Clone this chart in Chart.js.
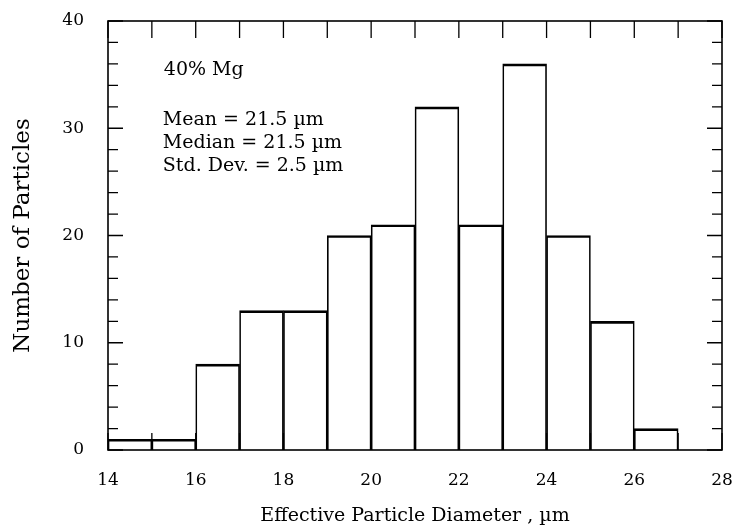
<!DOCTYPE html>
<html>
<head>
<meta charset="utf-8">
<script src="https://cdn.jsdelivr.net/npm/chart.js@4"></script>
<style>
html,body{margin:0;padding:0;background:#fff;}
#wrap{width:736px;height:532px;}
</style>
</head>
<body>
<div id="wrap"><canvas id="c" width="736" height="532"></canvas></div>
<script>
// Histogram data: bin starts (µm) and counts
const binStarts = [14, 15, 16, 17, 18, 19, 20, 21, 22, 23, 24, 25, 26];
const counts    = [1, 1, 8, 13, 13, 20, 21, 32, 21, 36, 20, 12, 2];
const xTickLabels = [14, 16, 18, 20, 22, 24, 26, 28];
const yTickLabels = [0, 10, 20, 30, 40];
const annotation = ['40% Mg', 'Mean = 21.5 \u00b5m', 'Median = 21.5 \u00b5m', 'Std. Dev. = 2.5 \u00b5m'];

const FONT = '"DejaVu Serif", "Liberation Serif", serif';

const data = binStarts.map((s, i) => ({x: s + 0.5, y: counts[i]}));

const frameTicks = {
  id: 'frameTicks',
  afterDatasetsDraw(chart) {
    const {ctx, chartArea: a, scales: {x, y}} = chart;
    ctx.save();
    ctx.strokeStyle = '#000';
    ctx.lineWidth = 1.6;
    ctx.strokeRect(a.left, a.top, a.right - a.left, a.bottom - a.top);
    ctx.lineWidth = 1.3;
    ctx.beginPath();
    for (let v = 14; v <= 28; v += 1) {
      const px = x.getPixelForValue(v);
      const len = 17;
      ctx.moveTo(px, a.bottom); ctx.lineTo(px, a.bottom - len);
      ctx.moveTo(px, a.top); ctx.lineTo(px, a.top + len);
    }
    for (let v = 0; v <= 40; v += 2) {
      const py = y.getPixelForValue(v);
      const len = (v % 10 === 0) ? 15 : 10;
      ctx.moveTo(a.left, py); ctx.lineTo(a.left + len, py);
      ctx.moveTo(a.right, py); ctx.lineTo(a.right - len, py);
    }
    ctx.stroke();
    // annotation text
    ctx.fillStyle = '#000';
    ctx.font = '19px ' + FONT;
    ctx.textBaseline = 'middle';
    ctx.textAlign = 'left';
    const tx = x.getPixelForValue(15.25);
    ctx.fillText(annotation[0], tx + 1, y.getPixelForValue(35.4));
    ctx.fillText(annotation[1], tx, y.getPixelForValue(30.75));
    ctx.fillText(annotation[2], tx, y.getPixelForValue(28.65));
    ctx.fillText(annotation[3], tx, y.getPixelForValue(26.5));
    ctx.restore();
  }
};

new Chart(document.getElementById('c'), {
  type: 'bar',
  data: {
    datasets: [{
      data: data,
      backgroundColor: 'rgba(255,255,255,0)',
      borderColor: '#000',
      borderWidth: {left: 1, right: 1, top: 2, bottom: 0},
      borderSkipped: 'start',
      barPercentage: 1.0,
      categoryPercentage: 1.0
    }]
  },
  plugins: [frameTicks],
  options: {
    responsive: false,
    animation: false,
    devicePixelRatio: 1,
    layout: {padding: {top: 21, right: 14, left: 0, bottom: 0}},
    plugins: {legend: {display: false}, tooltip: {enabled: false}},
    scales: {
      x: {
        type: 'linear',
        offset: false,
        min: 14, max: 28,
        afterBuildTicks(scale) { scale.ticks = xTickLabels.map(v => ({value: v})); },
        afterFit(scale) { scale.height = 82; scale.paddingLeft = 0; scale.paddingRight = 0; },
        grid: {display: false, drawTicks: false, offset: false},
        border: {display: false},
        ticks: {color: '#000', padding: 20, font: {family: FONT, size: 17}, maxRotation: 0, autoSkip: false},
        title: {display: true, text: 'Effective Particle Diameter , \u00b5m', color: '#000',
                font: {family: FONT, size: 19}, padding: {top: 0, bottom: 5}}
      },
      y: {
        type: 'linear',
        min: 0, max: 40,
        afterBuildTicks(scale) { scale.ticks = yTickLabels.map(v => ({value: v})); },
        afterFit(scale) { scale.width = 108; scale.paddingTop = 0; scale.paddingBottom = 0; },
        grid: {display: false, drawTicks: false},
        border: {display: false},
        ticks: {color: '#000', padding: 24, font: {family: FONT, size: 17}},
        title: {display: true, text: 'Number of Particles', color: '#000',
                font: {family: FONT, size: 23}, padding: {top: 9, bottom: 0}}
      }
    }
  }
});
</script>
</body>
</html>
